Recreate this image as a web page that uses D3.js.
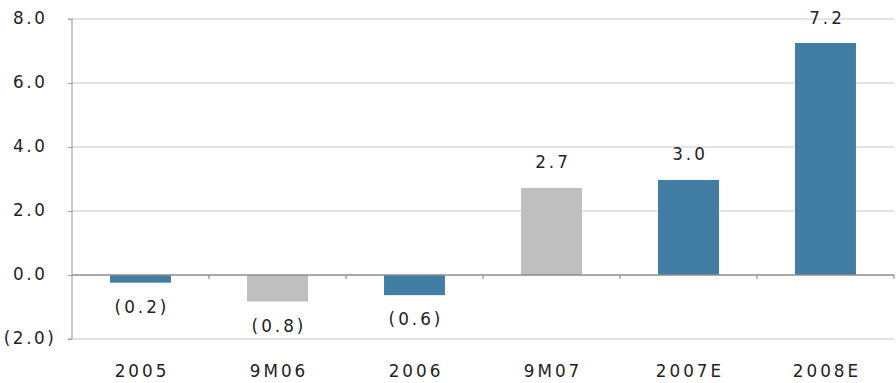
<!DOCTYPE html>
<html><head><meta charset="utf-8">
<script src="https://cdn.jsdelivr.net/npm/d3@7"></script>
<style>body{margin:0;background:#fff}svg{display:block}text{font-family:"DejaVu Sans",sans-serif;fill:#222}</style>
</head><body><svg id="c" width="896" height="383"></svg>
<script>
const categories = ["2005","9M06","2006","9M07","2007E","2008E"];
const values = [-0.24,-0.83,-0.63,2.72,2.97,7.25];
const labels = ["(0.2)","(0.8)","(0.6)","2.7","3.0","7.2"];
const kinds = ["annual","interim","annual","interim","annual","annual"];
const yTicks = [-2,0,2,4,6,8];
const yTickLabels = ["(2.0)","0.0","2.0","4.0","6.0","8.0"];
const colors = {annual:"#427EA3", interim:"#BFBFBF"};

(function(){
const svg = d3.select("#c");
const pl = 72, pr = 894, pt = 19, pb = 339;
const x = d3.scaleBand().domain(categories).range([pl,pr]).paddingInner(0.555).paddingOuter(0.2775);
const xb = d3.scaleBand().domain(categories).range([pl,pr]);
const y = d3.scaleLinear().domain([-2,8]).range([pb,pt]);
const fs = 16.8, ls = "3px";

// gridlines
svg.append("g").selectAll("line").data(yTicks.filter(d=>d!==0)).join("line")
  .attr("x1",pl).attr("x2",pr).attr("y1",d=>y(d)).attr("y2",d=>y(d))
  .attr("stroke","#DADADA").attr("stroke-width",1.5);

// y axis
const yAxis = d3.axisLeft(y).tickValues(yTicks).tickSize(4).tickFormat(()=> "");
const ga = svg.append("g").attr("transform",`translate(${pl},0)`).call(yAxis);
ga.selectAll("path,line").attr("stroke","#A6A6A6").attr("stroke-width",1.2);
ga.select(".domain").attr("d",`M-4,${y(8)}H0V${y(-2)}H-4`);
svg.append("g").selectAll("text").data(yTicks).join("text")
  .attr("x",d=>d<0?56.5:47.5).attr("y",d=>y(d)+5).attr("text-anchor","end")
  .attr("font-size",fs).attr("letter-spacing","2.6px").text((d,i)=>yTickLabels[i]);

// bars
svg.append("g").selectAll("rect").data(categories).join("rect")
  .attr("x",d=>x(d)).attr("width",x.bandwidth())
  .attr("y",(d,i)=>y(Math.max(0,values[i])))
  .attr("height",(d,i)=>Math.abs(y(values[i])-y(0)))
  .attr("fill",(d,i)=>colors[kinds[i]]);

// zero line + category ticks
const xAxis = d3.axisBottom(xb).tickSize(0).tickFormat("");
const gx = svg.append("g").attr("transform",`translate(0,${y(0)})`).call(xAxis);
gx.select(".domain").attr("d",`M${pl},0H${pr}`).attr("stroke","#8C8C8C").attr("stroke-width",1.5);
svg.append("g").selectAll("line").data(categories.map(c=>xb(c)+xb.bandwidth())).join("line")
  .attr("x1",d=>d).attr("x2",d=>d).attr("y1",y(0)).attr("y2",y(0)+4)
  .attr("stroke","#8C8C8C").attr("stroke-width",1.2);

// data labels
svg.append("g").selectAll("text").data(categories).join("text")
  .attr("x",d=>x(d)+x.bandwidth()/2+1.5)
  .attr("y",(d,i)=>values[i]>=0 ? y(values[i])-19.5 : y(values[i])+30)
  .attr("text-anchor","middle").attr("font-size",fs).attr("letter-spacing",ls)
  .text((d,i)=>labels[i]);

// x labels
svg.append("g").selectAll("text").data(categories).join("text")
  .attr("x",d=>xb(d)+xb.bandwidth()/2+1.5).attr("y",377)
  .attr("text-anchor","middle").attr("font-size",fs).attr("letter-spacing",ls)
  .text(d=>d);
})();
</script></body></html>
